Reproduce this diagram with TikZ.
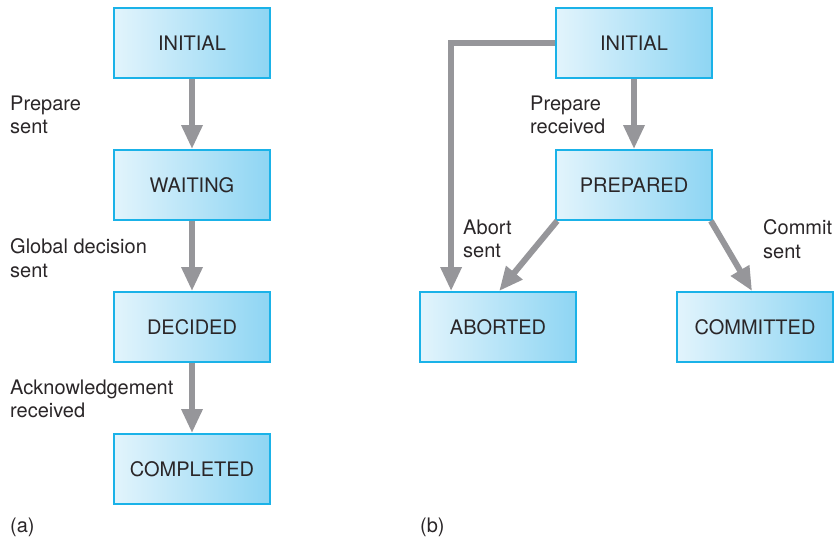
\documentclass[tikz,border=0pt]{standalone}
\usepackage{fontspec}
\setmainfont{TeX Gyre Heros}
\usetikzlibrary{arrows.meta}
\definecolor{bord}{HTML}{1AB2E8}
\definecolor{fl}{HTML}{E2F4FC}
\definecolor{fr}{HTML}{8ED5F3}
\definecolor{arr}{HTML}{96969A}
\definecolor{txt}{HTML}{2A2628}
\tikzset{
  state/.style={draw=bord, line width=1.8pt, left color=fl, right color=fr,
    minimum width=156pt, minimum height=70pt, inner sep=0pt,
    font=\fontsize{20pt}{23pt}\selectfont, text=txt},
  lab/.style={anchor=west, align=left, inner sep=0pt,
    font=\fontsize{20pt}{23.5pt}\selectfont, text=txt},
  conn/.style={draw=arr, line width=6pt, -{Triangle[width=20pt,length=24pt]}}
}
\begin{document}
\begin{tikzpicture}[x=1pt,y=-1pt]
\useasboundingbox (0,0) rectangle (834,542);
% (a)
\node[state] (i1) at (192,43) {INITIAL};
\node[state] (w1) at (192,185) {WAITING};
\node[state] (d1) at (192,327) {DECIDED};
\node[state] (c1) at (192,469) {COMPLETED};
\draw[conn] (i1) -- (w1);
\draw[conn] (w1) -- (d1);
\draw[conn] (d1) -- (c1);
\node[lab] (l1) at (10,115) {Prepare\\sent};
\node[lab] (l2) at (10,258) {Global decision\\sent};
\node[lab] (l3) at (10,399) {Acknowledgement\\received};
\node[lab] (la) at (10,527) {(a)};
% (b)
\node[state] (i2) at (634,43) {INITIAL};
\node[state] (p2) at (634,185) {PREPARED};
\node[state] (ab) at (498,327) {ABORTED};
\node[state] (cm) at (755,327) {COMMITTED};
\draw[conn] (i2) -- (p2);
\draw[conn] (i2.west) -| ([xshift=32pt]ab.north west);
\draw[conn] ([xshift=2pt]p2.south west) -- ([xshift=80pt]ab.north west);
\draw[conn] ([xshift=-2pt]p2.south east) -- ([xshift=76pt]cm.north west);
\node[lab] (l4) at (530,115) {Prepare\\received};
\node[lab] (l5) at (463,239) {Abort\\sent};
\node[lab] (l6) at (763,239) {Commit\\sent};
\node[lab] (lb) at (420,527) {(b)};
\end{tikzpicture}
\end{document}
